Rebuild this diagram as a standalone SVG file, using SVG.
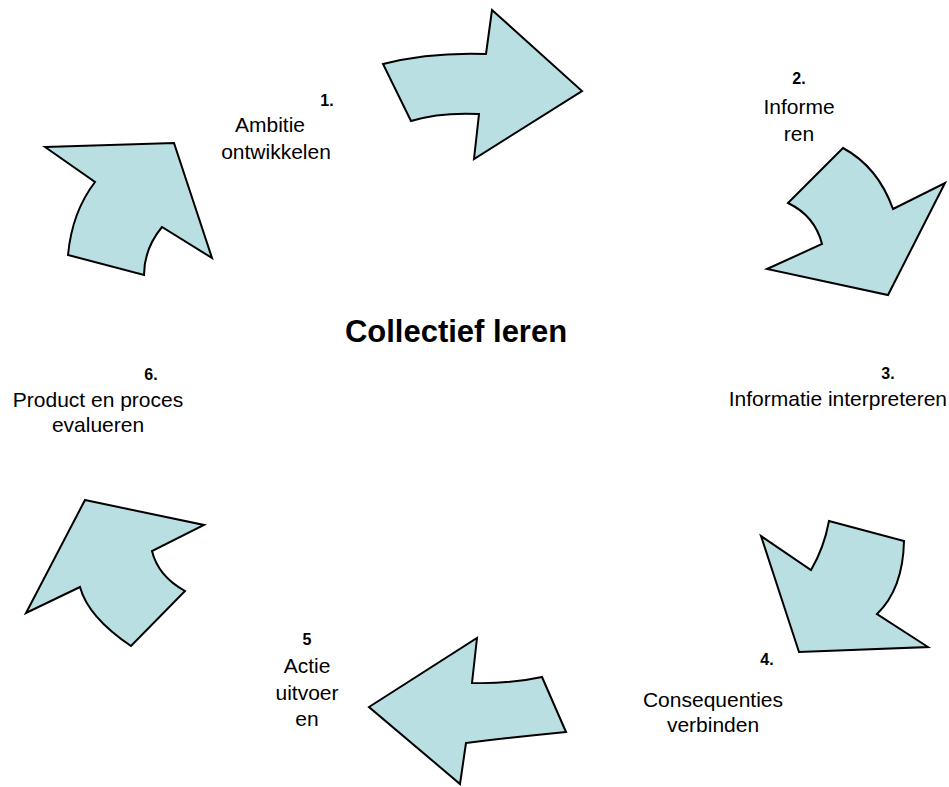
<svg xmlns="http://www.w3.org/2000/svg" width="949" height="787" viewBox="0 0 949 787">
<style>
.arr{fill:#B9DFE3;stroke:#000;stroke-width:2;stroke-linejoin:miter}
.t{font-family:"Liberation Sans",Arial,sans-serif;font-size:21px;fill:#000;text-anchor:middle}
.n{font-family:"Liberation Sans",Arial,sans-serif;font-size:16px;font-weight:bold;fill:#000;text-anchor:middle}
.title{font-family:"Liberation Sans",Arial,sans-serif;font-size:31px;font-weight:bold;fill:#000;text-anchor:middle}
</style>
<rect width="949" height="787" fill="#fff"/>
<g id="connectors">
<path id="arrow1" class="arr" d="M383,64 Q430,52 486,54 L492,10 L582,91 L474,159 L479,114 Q440,112 411,121 Z"/>
<path id="arrow2" class="arr" d="M843,148 Q878,167 893,209 L945,183 L888,295 L767,269 L822,244 Q815,216 788,203 Z"/>
<path id="arrow3" class="arr" d="M829,521 L904,541 Q903,589 877,614 L928,647 L799,652 L761,536 L811,570 Q824,548 829,521 Z"/>
<path id="arrow4" class="arr" d="M477,638 L472,683 Q510,684 542,677 L566,732 Q515,737 466,743 L460,784 L369,707 Z"/>
<path id="arrow5" class="arr" d="M85,500 L204,525 L152,551 Q158,576 185,591 L131,646 Q88,617 80,587 L26,613 Z"/>
<path id="arrow6" class="arr" d="M45,147 L174,143 L212,258 L162,227 Q144,249 144,275 L68,255 Q72,212 95,182 Z"/>
</g>
<g id="title"><text class="title" x="456" y="342">Collectief leren</text></g>
<g id="step1"><text class="n" x="327" y="106">1.</text><text class="t" x="270" y="132">Ambitie</text><text class="t" x="276" y="159">ontwikkelen</text></g>
<g id="step2"><text class="n" x="799" y="84">2.</text><text class="t" x="799" y="114">Informe</text><text class="t" x="799" y="141">ren</text></g>
<g id="step3"><text class="n" x="888" y="379">3.</text><text class="t" x="947" y="406" style="text-anchor:end">Informatie interpreteren</text></g>
<g id="step4"><text class="n" x="767" y="665">4.</text><text class="t" x="713" y="707">Consequenties</text><text class="t" x="713" y="732">verbinden</text></g>
<g id="step5"><text class="n" x="307" y="645">5</text><text class="t" x="307" y="673">Actie</text><text class="t" x="307" y="700">uitvoer</text><text class="t" x="307" y="726">en</text></g>
<g id="step6"><text class="n" x="151" y="380">6.</text><text class="t" x="98" y="407">Product en proces</text><text class="t" x="98" y="432">evalueren</text></g>
</svg>
